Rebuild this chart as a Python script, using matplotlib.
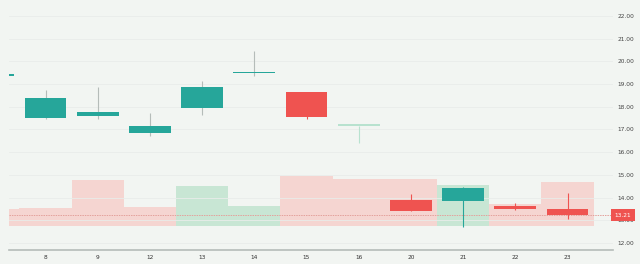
import numpy as np
import matplotlib
matplotlib.use("Agg")
import matplotlib.pyplot as plt

# --- Data ---
days = ["7", "8", "9", "12", "13", "14", "15", "16", "20", "21", "22", "23"]
opens = [19.37, 17.49, 17.60, 16.83, 17.93, 19.47, 18.64, 17.15, 13.91, 13.85, 13.64, 13.51]
highs = [19.42, 18.74, 18.86, 17.71, 19.14, 20.46, 18.65, 17.16, 14.16, 14.48, 13.78, 14.19]
lows = [19.36, 17.47, 17.46, 16.71, 17.64, 19.37, 17.45, 16.39, 13.42, 12.71, 13.44, 13.04]
closes = [19.42, 18.40, 17.76, 17.17, 18.86, 19.55, 17.54, 17.16, 13.42, 14.44, 13.48, 13.21]
volumes = [167, 177, 457, 187, 397, 197, 497, 467, 467, 407, 217, 437]  # thousands
vol_up = [False, False, False, False, True, True, False, False, False, True, False, False]
last_price = 13.21
price_ticks = [12, 13, 14, 15, 16, 17, 18, 19, 20, 21, 22]

# --- Style ---
BG = "#f2f5f2"
UP = "#26a69a"
DOWN = "#ef5350"
VOL_UP = "#c8e6d4"
VOL_DOWN = "#f5d5d1"
FAINT = "#b8e2cf"

fig = plt.figure(figsize=(6.4, 2.64), dpi=100)
fig.patch.set_facecolor(BG)
ax = fig.add_axes([8.7 / 640, 14 / 264, (613 - 8.7) / 640, 250 / 264])
ax.set_facecolor(BG)

x = np.arange(len(days)) - 1  # first candle is only partly visible
ax.set_xlim(-0.705, 10.87)
ax.set_ylim(11.69, 22.70)

# volume on a twin axis, behind the candles
vax = ax.twinx()
vax.set_ylim(-243, 2257)
vcolors = [VOL_UP if u else VOL_DOWN for u in vol_up]
vax.bar(x, volumes, width=1.0, color=vcolors, zorder=1)
vax.set_yticks([])
for s in vax.spines.values():
    s.set_visible(False)
ax.set_zorder(vax.get_zorder() + 1)
ax.patch.set_visible(False)
vax.patch.set_facecolor(BG)

# grid
for t in price_ticks:
    ax.axhline(t, color="#e9ecea", lw=0.6, zorder=0)

# last price line
ax.axhline(last_price, color="#e3a19c", lw=0.7, ls=(0, (1.5, 1)), zorder=2)

# candles
for i in range(len(days)):
    o, h, l, c = opens[i], highs[i], lows[i], closes[i]
    if days[i] == "16":
        col = FAINT
        wick = FAINT
    else:
        col = UP if c >= o else DOWN
        wick = "#b5bcb9" if c >= o and days[i] != "21" else col
    ax.vlines(x[i], l, h, color=wick, lw=0.8, zorder=3)
    bot = min(o, c)
    hgt = max(abs(c - o), 0.08)
    ax.bar(x[i], hgt, bottom=bot, width=0.8, color=col, zorder=4)

# axes
for s in ["top", "left", "right"]:
    ax.spines[s].set_visible(False)
ax.spines["bottom"].set_color("#b5bcb9")
ax.spines["bottom"].set_linewidth(1.2)
ax.set_xticks(x[1:])
ax.set_xticklabels(days[1:], fontsize=4.2, color="#333333")
ax.yaxis.tick_right()
ax.set_yticks(price_ticks)
ax.set_yticklabels([f"{t:.2f}" for t in price_ticks], fontsize=4.2, color="#444444")
ax.tick_params(axis="both", length=0, pad=3.5)

# last price tag
ax.text(1.003, last_price, f"{last_price:.2f}", transform=ax.get_yaxis_transform(),
        fontsize=4.2, color="white", va="center", ha="left", zorder=10,
        bbox=dict(boxstyle="square,pad=0.6", fc=DOWN, ec="none"))

plt.savefig("out.png", dpi=100, facecolor=BG)
